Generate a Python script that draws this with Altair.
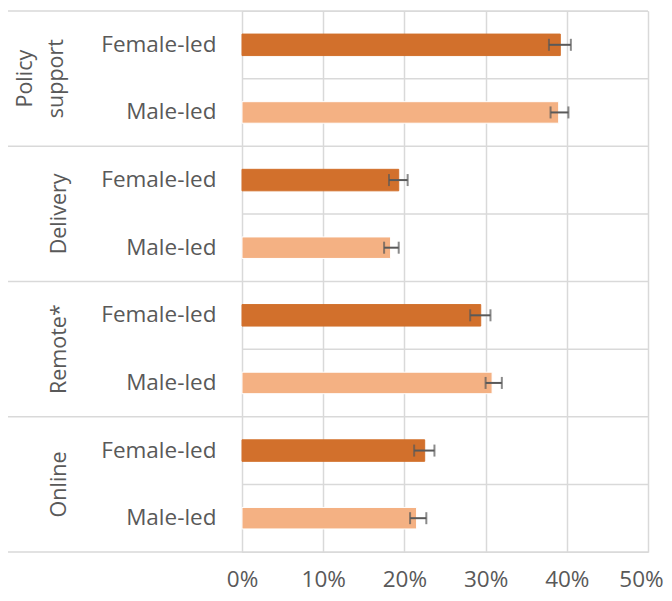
import altair as alt
import pandas as pd

groups = ["Policy support", "Delivery", "Remote*", "Online"]
group_labels = ["Policy\nsupport", "Delivery", "Remote*", "Online"]
subs = ["Female-led", "Male-led"]

female = [39.2, 19.3, 29.4, 22.5]
female_lo = [37.8, 18.1, 28.1, 21.2]
female_hi = [40.5, 20.4, 30.6, 23.7]
male = [39.0, 18.3, 30.8, 21.5]
male_lo = [38.0, 17.5, 30.0, 20.7]
male_hi = [40.2, 19.3, 32.0, 22.7]

x_ticks = [0, 0.1, 0.2, 0.3, 0.4, 0.5]

records = []
for i, g in enumerate(groups):
    for s, v, lo, hi in [("Female-led", female[i], female_lo[i], female_hi[i]),
                         ("Male-led", male[i], male_lo[i], male_hi[i])]:
        records.append({"group": g, "glabel": group_labels[i], "sub": s,
                        "row": f"{g}|{s}", "value": v / 100,
                        "lo": lo / 100, "hi": hi / 100})
df = pd.DataFrame(records)
rows = list(df["row"])

W, H = 406, 541
GRID = "#d9d9d9"
TXT = "#595959"
FONT = "Open Sans"
FS = 22.5
GFS = 21.5
LH = 30.5

y_axis = alt.Axis(title=None, labelExpr="split(datum.label, '|')[1]", domain=False,
                  ticks=False, grid=False, labelFontSize=FS, labelColor=TXT,
                  labelPadding=26, labelFont=FONT, labelLimit=300)
y_scale = alt.Scale(paddingInner=0, paddingOuter=0)


def yenc(bp=None):
    kw = dict(sort=rows, scale=y_scale, axis=y_axis)
    if bp is not None:
        kw["bandPosition"] = bp
    return alt.Y("row:N", **kw)


x_axis = alt.Axis(title=None, format=".0%", values=x_ticks, domain=False, ticks=False,
                  grid=True, gridColor=GRID, gridWidth=1.5, labelFontSize=FS,
                  labelColor=TXT, labelPadding=16, labelFont=FONT, labelFlush=False,
                  labelOffset={"condition": {"test": "datum.value >= 0.5", "value": -7},
                               "value": 0})
x_scale = alt.Scale(domain=[0, 0.5], nice=False)


def xenc(field):
    return alt.X(f"{field}:Q", scale=x_scale, axis=x_axis, title=None)


base = alt.Chart(df)

mid_rules = base.transform_filter(alt.datum.sub == "Male-led").mark_rule(
    color=GRID, strokeWidth=1.5).encode(y=yenc(0), x=alt.value(0), x2=alt.value(W))

group_rules = base.transform_filter(alt.datum.sub == "Female-led").mark_rule(
    color=GRID, strokeWidth=1.5).encode(y=yenc(0), x=alt.value(-235), x2=alt.value(W))

bottom_rule = base.transform_filter(alt.datum.row == rows[-1]).mark_rule(
    color=GRID, strokeWidth=1.5).encode(y=yenc(1), x=alt.value(-235), x2=alt.value(W))

bars = base.mark_bar(size=21.5).encode(
    y=yenc(),
    x=xenc("value"),
    color=alt.Color("sub:N", scale=alt.Scale(domain=subs, range=["#D2702C", "#F4B183"]),
                    legend=None),
    stroke=alt.Stroke("sub:N", scale=alt.Scale(domain=subs, range=["#D2702C", "#ffffff"]),
                      legend=None),
)

err = base.mark_rule(color=TXT, strokeWidth=2).encode(
    y=yenc(), x=xenc("lo"), x2="hi")
cap_lo = base.mark_tick(color=TXT, size=12, thickness=2).encode(y=yenc(), x=xenc("lo"))
cap_hi = base.mark_tick(color=TXT, size=12, thickness=2).encode(y=yenc(), x=xenc("hi"))

label_base = base.transform_filter(alt.datum.sub == "Female-led")
glabels1 = label_base.transform_filter("indexof(datum.glabel, '\\n') < 0").mark_text(
    angle=270, align="center", baseline="bottom", lineBreak="\n", lineHeight=LH,
    fontSize=GFS, font=FONT, color=TXT).encode(
    y=yenc(1), x=alt.value(-171), text="glabel:N")
glabels2 = label_base.transform_filter("indexof(datum.glabel, '\\n') >= 0").mark_text(
    angle=270, align="center", baseline="bottom", lineBreak="\n", lineHeight=LH,
    fontSize=GFS, font=FONT, color=TXT).encode(
    y=yenc(1), x=alt.value(-205), text="glabel:N")

chart = alt.layer(mid_rules, group_rules, bottom_rule, bars, err, cap_lo, cap_hi,
                  glabels1, glabels2).properties(
    width=W, height=H,
    autosize=alt.AutoSizeParams(type="none"),
    padding={"left": 234, "top": 3, "right": 16, "bottom": 41},
).configure_view(stroke=None).configure(font=FONT)

chart.save("out.html", embed_options={"renderer": "svg", "actions": False})
